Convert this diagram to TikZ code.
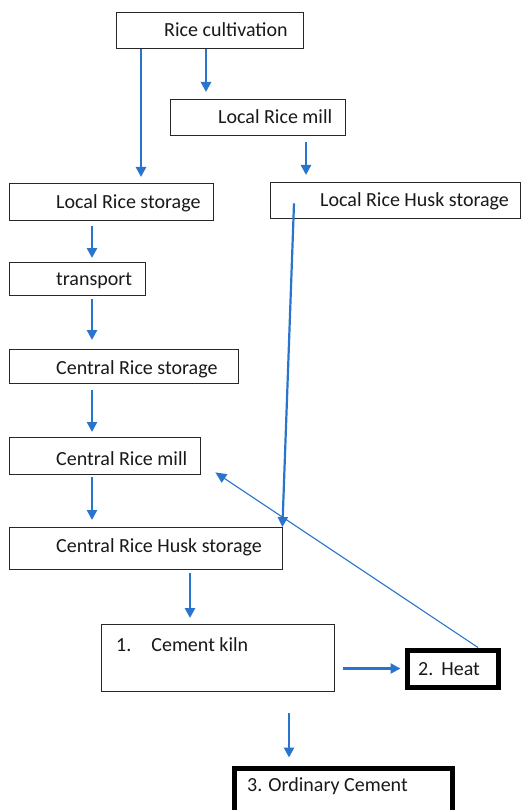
\documentclass[tikz,border=0pt]{standalone}
\usepackage{fontspec}
\setmainfont{Carlito}
\usetikzlibrary{arrows.meta,calc}
\definecolor{arrblue}{RGB}{41,116,204}
\definecolor{boxline}{RGB}{40,40,40}
\begin{document}
\begin{tikzpicture}[x=1pt,y=-1pt,
 box/.style={draw=boxline, line width=1.4pt, rectangle, inner sep=0pt, anchor=north west},
 thickbox/.style={draw=black, line width=5pt, rectangle, inner sep=0pt, anchor=north west},
 txt/.style={anchor=base west, inner sep=0pt, font=\fontsize{20}{22}\selectfont, text=black!90},
 arr/.style={draw=arrblue, line width=2.7pt, -{Triangle[length=10pt,width=10pt]}},
 tarr/.style={draw=arrblue, line width=1.1pt, -{Triangle[length=11pt,width=10pt]}}]
\useasboundingbox (0,0) rectangle (528,810);
\fill[white] (0,0) rectangle (528,810);
% boxes
\node[box, minimum width=187pt, minimum height=36pt] (rc) at (116,12) {};
\node[box, minimum width=175pt, minimum height=36pt] (lrm) at (170,99) {};
\node[box, minimum width=204pt, minimum height=37pt] (lrs) at (9,183) {};
\node[box, minimum width=250pt, minimum height=36pt] (lhs) at (270,182) {};
\node[box, minimum width=136pt, minimum height=33pt] (tr) at (9,262) {};
\node[box, minimum width=229pt, minimum height=34pt] (crs) at (9,349) {};
\node[box, minimum width=191pt, minimum height=37pt] (crm) at (9,437) {};
\node[box, minimum width=273pt, minimum height=42pt] (crhs) at (9,527) {};
\node[box, minimum width=233pt, minimum height=67pt] (ck) at (101,624) {};
\node[thickbox, minimum width=91pt, minimum height=37pt] (heat) at (404.5,647.5) {};
\node[thickbox, minimum width=218pt, minimum height=50pt] (oc) at (231.5,765.5) {};
% texts
\node[txt] (rct) at ($(rc.north west)+(48,25)$) {Rice cultivation};
\node[txt] (lrmt) at ($(lrm.north west)+(48,25)$) {Local Rice mill};
\node[txt] (lrst) at ($(lrs.north west)+(47,25)$) {Local Rice storage};
\node[txt] (lhst) at ($(lhs.north west)+(50,25)$) {Local Rice Husk storage};
\node[txt] (trt) at ($(tr.north west)+(47,23)$) {transport};
\node[txt] (crst) at ($(crs.north west)+(47,25)$) {Central Rice storage};
\node[txt] (crmt) at ($(crm.north west)+(47,28)$) {Central Rice mill};
\node[txt] (crhst) at ($(crhs.north west)+(47,25)$) {Central Rice Husk storage};
\node[txt] (ckt) at ($(ck.north west)+(15,27)$) {1.\hspace{20pt}Cement kiln};
\node[txt] (heatt) at ($(heat.north west)+(13.5,27.5)$) {2.\hspace{8pt}Heat};
\node[txt] (oct) at ($(oc.north west)+(15.5,26)$) {3. Ordinary Cement};
% arrows
\draw[arr, shorten >=6pt] ([xshift=25pt]rc.south west) -- ([xshift=25pt]rc.south west |- lrs.north);
\draw[arr, shorten >=7pt] ([xshift=90pt]rc.south west) -- ([xshift=90pt]rc.south west |- lrm.north);
\draw[arr, shorten <=6pt, shorten >=7pt] ([xshift=136pt]lrm.south west) -- ([xshift=136pt]lrm.south west |- lhs.north);
\draw[arr, shorten <=5pt, shorten >=4pt] ([xshift=83pt]lrs.south west) -- ([xshift=83pt]lrs.south west |- tr.north);
\draw[arr, shorten <=3pt, shorten >=9pt] ([xshift=83pt]tr.south west) -- ([xshift=83pt]tr.south west |- crs.north);
\draw[arr, shorten <=6pt, shorten >=5pt] ([xshift=83pt]crs.south west) -- ([xshift=83pt]crs.south west |- crm.north);
\draw[arr, shorten <=2pt, shorten >=7pt] ([xshift=83pt]crm.south west) -- ([xshift=83pt]crm.south west |- crhs.north);
\draw[arr, shorten <=3pt, shorten >=6pt] ([xshift=181pt]crhs.south west) -- ([xshift=181pt]crhs.south west |- ck.north);
\draw[arr, shorten <=21pt, shorten >=8pt] ([xshift=188pt]ck.south west) -- ([xshift=188pt]ck.south west |- oc.north);
\draw[arr, shorten <=8pt, shorten >=4pt] (ck.east |- heat.west) -- (heat.west);
\draw[tarr] ([xshift=73.5pt]heat.north west) -- ([shift={(14pt,3pt)}]crm.south east);
\draw[arr, line width=2.2pt] ([shift={(24pt,16pt)}]lhs.south west) -- ([xshift=-1pt]crhs.north east);
\end{tikzpicture}
\end{document}
